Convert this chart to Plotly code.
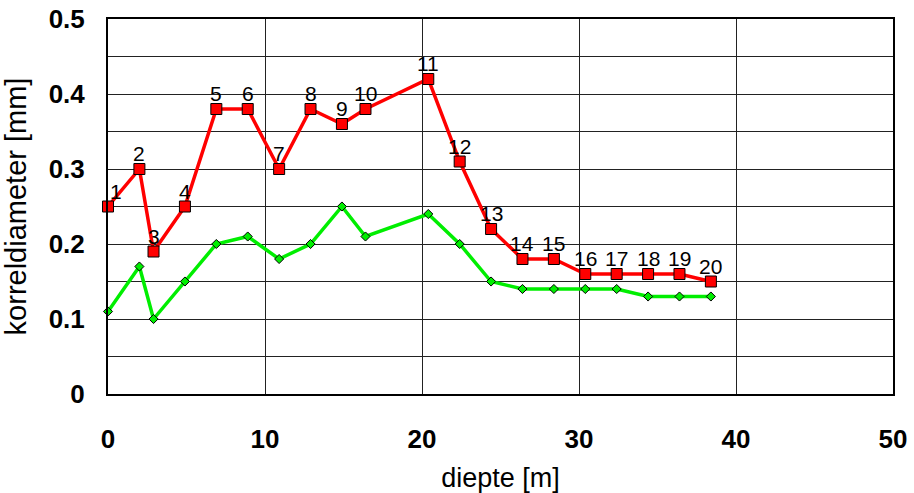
import plotly.graph_objects as go

# depth [m] of each sample
depth = [0, 2, 2.9, 4.9, 6.9, 8.9, 10.9, 12.9, 14.9, 16.4,
         20.4, 22.4, 24.4, 26.4, 28.4, 30.4, 32.4, 34.4, 36.4, 38.4]
# grain diameter [mm], upper curve (numbered samples)
d_upper = [0.25, 0.30, 0.19, 0.25, 0.38, 0.38, 0.30, 0.38, 0.36, 0.38,
           0.42, 0.31, 0.22, 0.18, 0.18, 0.16, 0.16, 0.16, 0.16, 0.15]
# grain diameter [mm], lower curve
d_lower = [0.11, 0.17, 0.10, 0.15, 0.20, 0.21, 0.18, 0.20, 0.25, 0.21,
           0.24, 0.20, 0.15, 0.14, 0.14, 0.14, 0.14, 0.13, 0.13, 0.13]
sample_labels = [str(i) for i in range(1, 21)]

x_ticks = [0, 10, 20, 30, 40, 50]
y_ticks = [0, 0.1, 0.2, 0.3, 0.4, 0.5]
y_tick_text = ["0", "0.1", "0.2", "0.3", "0.4", "0.5"]

FONT = "Liberation Sans, Arial, sans-serif"

fig = go.Figure()

fig.add_trace(go.Scatter(
    x=depth, y=d_lower, mode="lines+markers",
    line=dict(color="#00ee00", width=3.5),
    marker=dict(symbol="diamond", size=7, color="#00ee00",
                line=dict(color="#000000", width=1)),
    cliponaxis=False, showlegend=False,
))

fig.add_trace(go.Scatter(
    x=depth, y=d_upper, mode="lines+markers",
    line=dict(color="#ff0000", width=3.5),
    marker=dict(symbol="square", size=11, color="#ff0000",
                line=dict(color="#000000", width=1)),
    cliponaxis=False, showlegend=False,
))

# sample numbers just above the upper-curve markers
for xv, yv, lab in zip(depth, d_upper, sample_labels):
    fig.add_annotation(
        x=xv, y=yv, text=lab, showarrow=False,
        xanchor="left" if xv == 0 else "center", yanchor="bottom",
        yshift=2, font=dict(family=FONT, size=21, color="#000000"),
    )

fig.update_layout(
    width=914, height=493,
    margin=dict(l=108, r=21, t=19, b=99),
    paper_bgcolor="white", plot_bgcolor="white",
    font=dict(family=FONT, color="#000000"),
    xaxis=dict(
        range=[0, 50], tickvals=x_ticks, ticks="", automargin=False,
        tickfont=dict(family=FONT, size=26, weight="bold"),
        ticklabelstandoff=21,
        showgrid=True, gridcolor="#222222", gridwidth=1,
        showline=True, linecolor="#000000", linewidth=2, mirror=True,
        zeroline=False,
        title=dict(text="diepte [m]", font=dict(family=FONT, size=27),
                   standoff=16),
    ),
    yaxis=dict(
        range=[0, 0.5], tickvals=y_ticks, ticktext=y_tick_text, ticks="",
        automargin=False,
        tickfont=dict(family=FONT, size=26, weight="bold"),
        ticklabelstandoff=16,
        showgrid=True, gridcolor="#222222", gridwidth=1,
        minor=dict(dtick=0.05, showgrid=True, gridcolor="#222222",
                   gridwidth=1, ticks=""),
        showline=True, linecolor="#000000", linewidth=2, mirror=True,
        zeroline=False,
        title=dict(text="korreldiameter [mm]",
                   font=dict(family=FONT, size=29), standoff=14),
    ),
)

fig.write_html("out.html")
